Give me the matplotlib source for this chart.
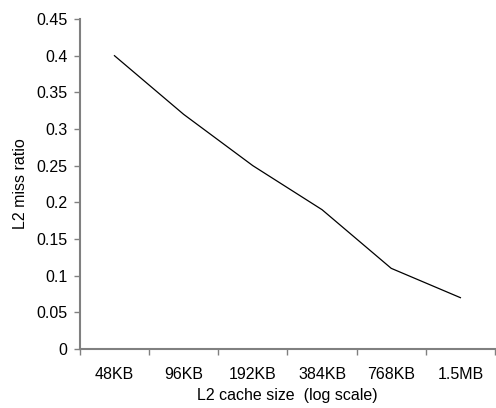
import matplotlib.pyplot as plt
import numpy as np

sizes = ["48KB", "96KB", "192KB", "384KB", "768KB", "1.5MB"]
miss_ratio = [0.40, 0.32, 0.25, 0.19, 0.11, 0.07]

plt.rcParams['font.family'] = ['Liberation Sans', 'DejaVu Sans']

fig = plt.figure(figsize=(4.96, 4.08), dpi=100)
ax = fig.add_axes([0.161, 0.1446, 0.837, 0.8088])

x = np.arange(len(sizes))
ax.plot(x, miss_ratio, color="black", linewidth=0.9)

ax.set_xlim(-0.5, len(sizes) - 0.5)
ax.set_ylim(0, 0.45)
ax.set_yticks(np.arange(0, 0.451, 0.05))
ax.set_yticklabels(["0", "0.05", "0.1", "0.15", "0.2", "0.25", "0.3", "0.35", "0.4", "0.45"])
ax.set_xticks(x)
ax.set_xticklabels(sizes)
ax.set_xticks(np.arange(-0.5, len(sizes), 1.0), minor=True)
ax.tick_params(axis="x", which="major", length=0, pad=13, labelsize=11.5)
ax.tick_params(axis="x", which="minor", length=4, width=1, color="#808080", direction="out")
ax.tick_params(axis="y", length=4, width=1, color="#808080", direction="out", pad=5, labelsize=11.5)

for s in ["top", "right"]:
    ax.spines[s].set_visible(False)
for s in ["left", "bottom"]:
    ax.spines[s].set_color("#808080")
    ax.spines[s].set_linewidth(1.5)

ax.set_xlabel("L2 cache size  (log scale)", fontsize=11.5, labelpad=4)
ax.set_ylabel("L2 miss ratio", fontsize=11.5, labelpad=6)

fig.savefig("out.png", dpi=100)
